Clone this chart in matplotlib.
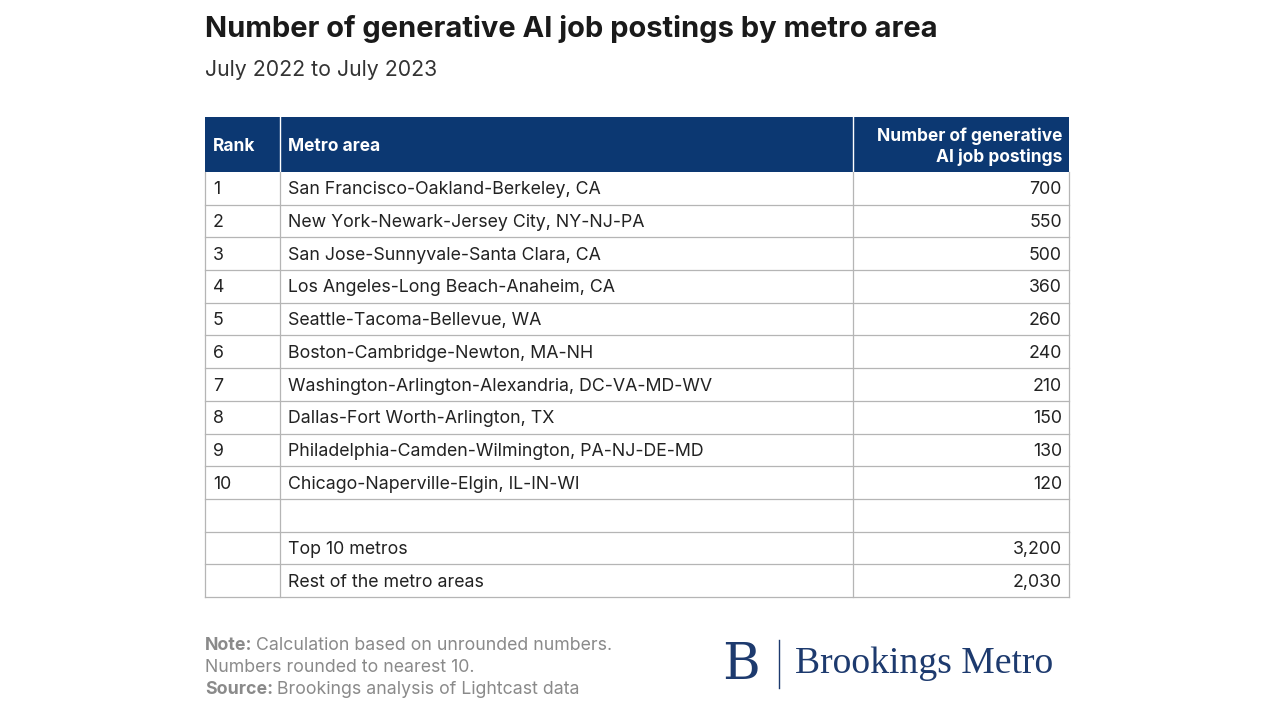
import matplotlib
matplotlib.use("Agg")
import matplotlib.pyplot as plt
from matplotlib.patches import Rectangle

ranks = ["1","2","3","4","5","6","7","8","9","10","","",""]
metros = ["San Francisco-Oakland-Berkeley, CA","New York-Newark-Jersey City, NY-NJ-PA",
          "San Jose-Sunnyvale-Santa Clara, CA","Los Angeles-Long Beach-Anaheim, CA",
          "Seattle-Tacoma-Bellevue, WA","Boston-Cambridge-Newton, MA-NH",
          "Washington-Arlington-Alexandria, DC-VA-MD-WV","Dallas-Fort Worth-Arlington, TX",
          "Philadelphia-Camden-Wilmington, PA-NJ-DE-MD","Chicago-Naperville-Elgin, IL-IN-WI",
          "","Top 10 metros","Rest of the metro areas"]
postings = ["700","550","500","360","260","240","210","150","130","120","","3,200","2,030"]
headers = ["Rank","Metro area","Number of generative\nAI job postings"]

W, H = 1280, 720
fig = plt.figure(figsize=(12.8, 7.2), dpi=100)
ax = fig.add_axes([0, 0, 1, 1])
ax.set_xlim(0, W); ax.set_ylim(H, 0); ax.axis("off")
font = "Inter"
navy = "#0c3872"
txt = "#222222"

ax.text(205, 29, "Number of generative AI job postings by metro area", fontsize=20.95,
        fontweight="bold", family=font, color="#1a1a1a", va="center")
ax.text(205, 70, "July 2022 to July 2023", fontsize=15.3, family=font, color="#333333", va="center")

x0, x1, x2, x3 = 205, 280, 853, 1069
hy0, hy1 = 117, 172
ax.add_patch(Rectangle((x0, hy0), x3 - x0, hy1 - hy0, color=navy, lw=0))
for x in (x1, x2):
    ax.plot([x, x], [hy0, hy1], color="white", lw=1)
hm = (hy0 + hy1) / 2 + 2
ax.text(x0 + 8, hm, headers[0], color="white", fontsize=12.5, fontweight="bold", family=font, va="center")
ax.text(x1 + 8, hm, headers[1], color="white", fontsize=12.5, fontweight="bold", family=font, va="center")
ax.text(x3 - 7, hm, headers[2], color="white", fontsize=12.5, fontweight="bold", family=font,
        va="center", ha="right", linespacing=1.25)

n = len(metros)
rh = (597 - hy1) / n
grid = "#b5b5b5"
for i in range(n):
    y = hy1 + i * rh
    ym = y + rh / 2 + 1.5
    ax.text(x0 + 8, ym, ranks[i], fontsize=12.8, family=font, color=txt, va="center")
    ax.text(x1 + 8, ym, metros[i], fontsize=12.8, family=font, color=txt, va="center")
    ax.text(x3 - 7, ym, postings[i], fontsize=12.8, family=font, color=txt, va="center", ha="right")
    ax.plot([x0, x3], [y + rh, y + rh], color=grid, lw=0.9)
for x in (x0, x1, x2, x3):
    ax.plot([x, x], [hy1, 597], color=grid, lw=0.9)

gray = "#8a8a8a"
fs = 12.75
fig.canvas.draw()
r = fig.canvas.get_renderer()
def labeled(y, lab, rest):
    t = ax.text(205, y, lab, fontsize=fs, family=font, color=gray, fontweight="bold", va="center")
    w = t.get_window_extent(r).width
    ax.text(205 + w + 4, y, rest, fontsize=fs, family=font, color=gray, va="center")
labeled(646, "Note:", "Calculation based on unrounded numbers.")
ax.text(205, 668, "Numbers rounded to nearest 10.", fontsize=fs, family=font, color=gray, va="center")
labeled(690, "Source:", "Brookings analysis of Lightcast data")

ax.text(722, 665, "B", fontsize=37, family="DejaVu Serif", color="#1d3a6e", va="center")
ax.plot([779, 779], [640, 688], color="#1d3a6e", lw=1)
ax.text(795, 664, "Brookings Metro", fontsize=27.1, family="Liberation Serif", color="#1d3a6e", va="center")

fig.savefig("out.png", dpi=100, facecolor="white")
